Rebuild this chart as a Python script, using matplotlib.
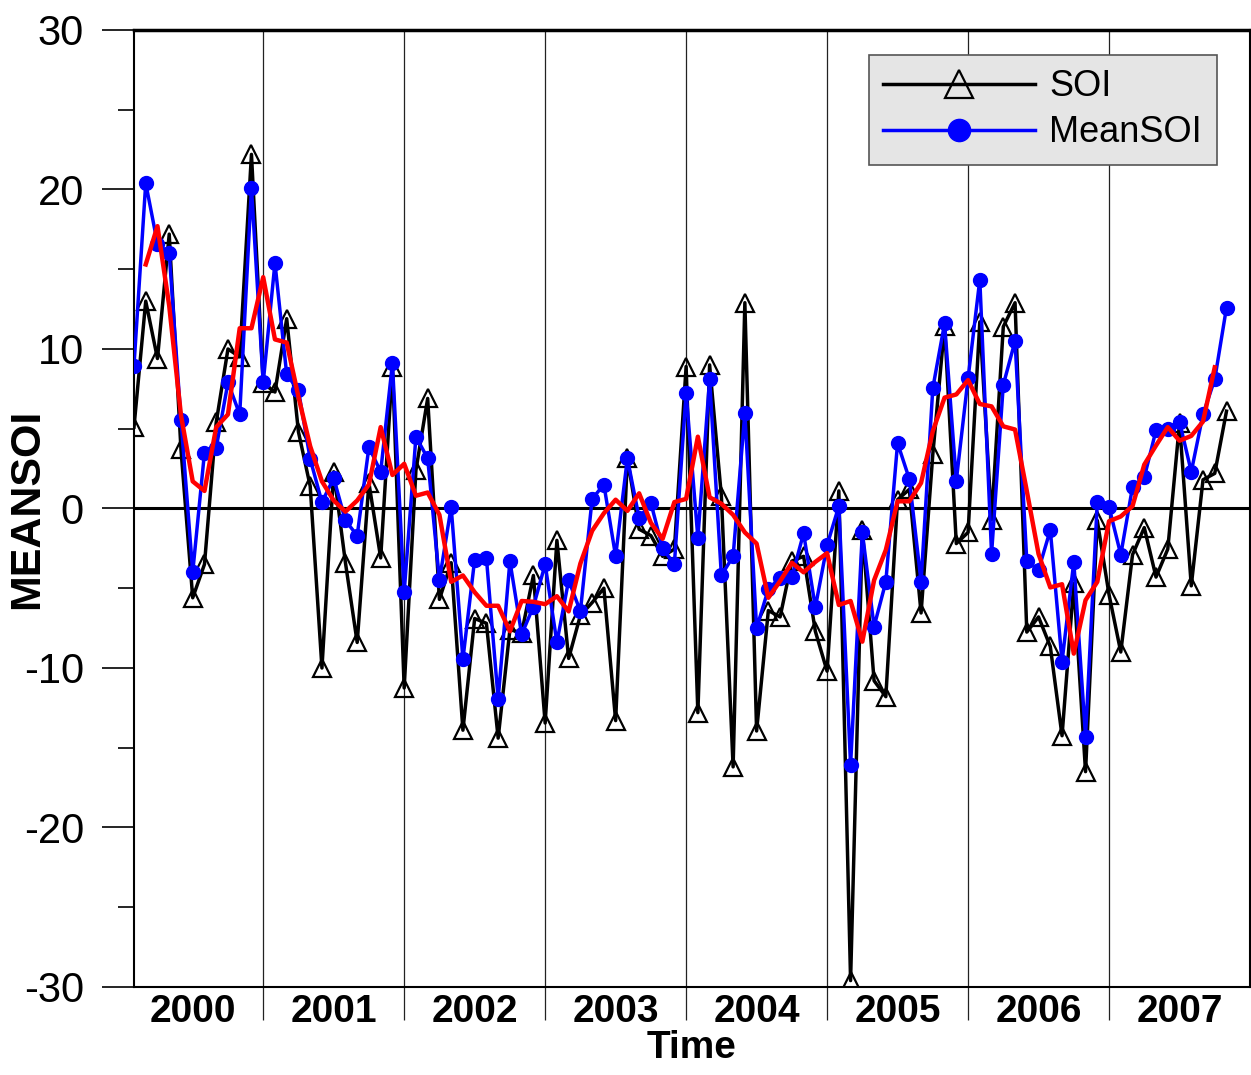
import numpy as np
import matplotlib
matplotlib.use("Agg")
import matplotlib.pyplot as plt
from matplotlib.ticker import MultipleLocator, FixedLocator, NullFormatter

plt.rcParams["font.family"] = ["Liberation Sans", "DejaVu Sans"]
plt.rcParams["axes.unicode_minus"] = False

years = ["2000", "2001", "2002", "2003", "2004", "2005", "2006", "2007"]

# monthly values, Jan 2000 .. Oct 2007
soi = [5.1, 13.0, 9.4, 17.2, 3.7, -5.6, -3.5, 5.4, 10.0, 9.5, 22.2, 7.85,
       7.3, 11.9, 4.8, 1.4, -10.0, 2.3, -3.4, -8.4, 1.6, -3.1, 8.9, -11.25,
       2.4, 6.9, -5.7, -3.4, -13.9, -6.9, -7.2, -14.4, -7.6, -7.8, -4.2, -13.45,
       -2.0, -9.4, -6.7, -5.9, -5.0, -13.3, 3.15, -1.3, -1.7, -3.0, -2.55, 8.9,
       -12.8, 9.0, 0.8, -16.2, 12.9, -13.95, -6.4, -6.8, -3.3, -3.0, -7.7, -10.2,
       1.1, -29.6, -1.35, -10.8, -11.8, 0.55, 1.2, -6.55, 3.4, 11.45, -2.2, -1.5,
       11.7, -0.7, 11.4, 12.9, -7.75, -6.8, -8.65, -14.25, -4.7, -16.5, -0.75, -5.4,
       -9.0, -2.9, -1.2, -4.3, -2.55, 5.35, -4.85, 1.8, 2.2, 6.1]

mean_soi = [8.95, 20.4, 16.6, 16.0, 5.55, -4.0, 3.5, 3.8, 7.9, 5.9, 20.1, 7.9,
            15.4, 8.4, 7.4, 3.1, 0.4, 1.9, -0.75, -1.7, 3.85, 2.3, 9.1, -5.25,
            4.5, 3.15, -4.5, 0.1, -9.45, -3.2, -3.1, -11.95, -3.3, -7.9, -6.15, -3.5,
            -8.4, -4.5, -6.45, 0.6, 1.5, -3.0, 3.15, -0.6, 0.35, -2.5, -3.5, 7.25,
            -1.85, 8.1, -4.2, -3.0, 6.0, -7.5, -5.05, -4.35, -4.3, -1.55, -6.2, -2.3,
            0.15, -16.1, -1.5, -7.4, -4.6, 4.1, 1.85, -4.6, 7.55, 11.6, 1.75, 8.15,
            14.35, -2.85, 7.75, 10.5, -3.3, -3.85, -1.35, -9.6, -3.35, -14.3, 0.4, 0.1,
            -2.9, 1.35, 1.95, 4.9, 5.0, 5.45, 2.3, 5.9, 8.1, 12.6]

# smoothed curve (red), Feb 2000 .. Sep 2007
smooth = [15.3, 17.7, 12.7, 5.85, 1.7, 1.1, 5.1, 5.9, 11.3, 11.3, 14.5,
          10.6, 10.4, 7.0, 3.9, 1.7, 0.5, -0.2, 0.5, 1.5, 5.1, 2.1, 2.8,
          0.8, 1.0, -0.4, -4.6, -4.2, -5.25, -6.1, -6.1, -7.7, -5.8, -5.85, -6.0,
          -5.5, -6.45, -3.45, -1.4, -0.3, 0.55, -0.15, 0.95, -0.9, -1.9, 0.4, 0.6,
          4.5, 0.7, 0.3, -0.4, -1.5, -2.2, -5.6, -4.55, -3.4, -4.0, -3.35, -2.8,
          -6.05, -5.8, -8.35, -4.5, -2.6, 0.45, 0.45, 1.6, 4.85, 6.95, 7.15, 8.05,
          6.55, 6.4, 5.15, 4.95, 1.1, -2.85, -4.95, -4.75, -9.1, -5.75, -4.6, -0.8,
          -0.5, 0.15, 2.75, 3.95, 5.1, 4.25, 4.55, 5.45, 8.85]

month = np.arange(len(soi))
month_s = np.arange(1, 1 + len(smooth))
boundaries = [11 + 12 * k for k in range(7)]
centers = [5 + 12 * k for k in range(8)]

fig = plt.figure(figsize=(12.51, 10.75), dpi=100)
ax = fig.add_axes([0.1071, 0.0819, 0.8921, 0.8902])

for b in boundaries:
    ax.axvline(b, color="#222222", lw=0.9, zorder=1)
ax.axhline(0, color="black", lw=2.2, zorder=2)

ax.plot(month, soi, color="black", lw=2.5, marker="^", markersize=13,
        markerfacecolor="none", markeredgecolor="black", markeredgewidth=1.6,
        label="SOI", zorder=3)
ax.plot(month, mean_soi, color="blue", lw=2.5, marker="o", markersize=10,
        markerfacecolor="blue", markeredgecolor="blue",
        label="MeanSOI", zorder=4)
ax.plot(month_s, smooth, color="red", lw=3.2, zorder=5)

ax.set_xlim(0, 95)
ax.set_ylim(-30, 30)

ax.yaxis.set_major_locator(MultipleLocator(10))
ax.yaxis.set_minor_locator(MultipleLocator(5))
ax.tick_params(axis="y", which="major", length=23, width=1.2, labelsize=30, pad=13)
ax.tick_params(axis="y", which="minor", length=11.5, width=1.2)

ax.xaxis.set_major_locator(FixedLocator(boundaries))
ax.xaxis.set_major_formatter(NullFormatter())
ax.xaxis.set_minor_locator(FixedLocator(centers))
ax.set_xticklabels(years, minor=True, fontsize=28, fontweight="bold")
ax.tick_params(axis="x", which="major", length=24, width=0.9, color="#222222")
ax.tick_params(axis="x", which="minor", length=0, pad=5)

ax.spines["top"].set_linewidth(2.5)
ax.spines["left"].set_linewidth(1.5)
ax.spines["bottom"].set_linewidth(1.5)
ax.spines["right"].set_linewidth(1.5)

ax.set_xlabel("Time", fontsize=28, fontweight="bold")
ax.xaxis.set_label_coords(0.5, -0.0455)
ax.set_ylabel("MEANSOI", fontsize=31, fontweight="bold")
ax.yaxis.set_label_coords(-0.078, 0.5)

leg = ax.legend(loc="upper right", bbox_to_anchor=(0.970, 0.974), borderaxespad=0,
                fontsize=26, handlelength=4.2, markerscale=1.6, frameon=True,
                fancybox=False, facecolor="#e5e5e5", edgecolor="#555555",
                framealpha=1, borderpad=0.4, labelspacing=0.3, handletextpad=0.4)
leg.get_frame().set_linewidth(1.2)

fig.savefig("out.png", dpi=100)
